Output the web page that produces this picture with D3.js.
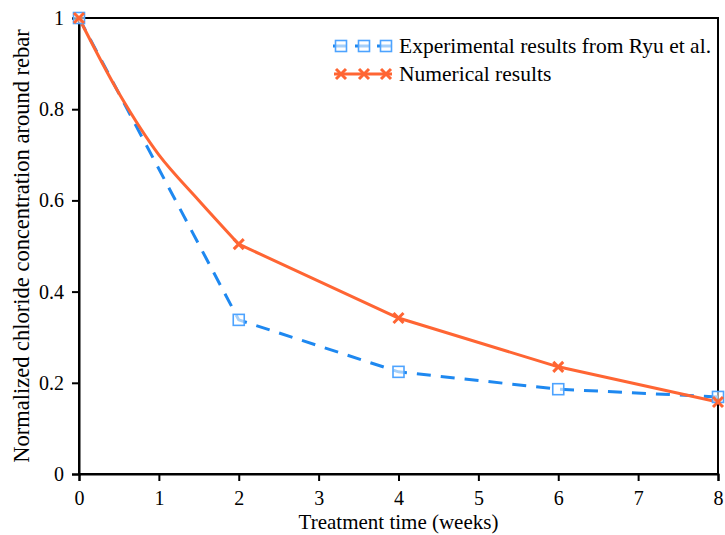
<!DOCTYPE html>
<html><head><meta charset="utf-8">
<script src="https://cdn.jsdelivr.net/npm/d3@7"></script>
<style>body{margin:0;background:#fff}</style>
</head><body>
<svg id="c" width="725" height="535"></svg>
<script>
const xTicks = [0,1,2,3,4,5,6,7,8];
const yTicks = [0,0.2,0.4,0.6,0.8,1];
const expWeeks = [0,2,4,6,8];
const expValues = [1.0,0.338,0.224,0.186,0.169];
const numWeeks = [0,0.5,1,1.5,2,4,6,8];
const numValues = [1.0,0.835,0.70,0.60,0.504,0.342,0.235,0.158];
const numMarkerWeeks = [0,2,4,6,8];
const seriesNames = ["Experimental results from Ryu et al.","Numerical results"];
const xTitle = "Treatment time (weeks)";
const yTitle = "Normalized chloride concentration around rebar";

const blue = "#1E88F0", blueMk = "#4DA3FF", orange = "#FF6533";
const svg = d3.select("#c");
const L=79,R=718,T=18,B=474;
const x = d3.scaleLinear().domain([0,8]).range([L,R]);
const y = d3.scaleLinear().domain([0,1]).range([B,T]);
const font = "'Liberation Serif','Times New Roman',serif";

svg.append("rect").attr("x",L).attr("y",T).attr("width",R-L).attr("height",B-T)
  .attr("fill","none").attr("stroke","#000").attr("stroke-width",2);

const xa = svg.append("g").attr("transform",`translate(0,${B})`)
  .call(d3.axisBottom(x).tickValues(xTicks).tickFormat(d3.format("d")).tickSize(7).tickPadding(10));
const ya = svg.append("g").attr("transform",`translate(${L},0)`)
  .call(d3.axisLeft(y).tickValues(yTicks).tickFormat(d=>String(+d.toFixed(1))).tickSize(7).tickPadding(8));
[xa,ya].forEach(a=>{
  a.attr("font-family",font).attr("font-size",20);
  a.select(".domain").attr("stroke","#000").attr("stroke-width",2);
  a.selectAll(".tick line").attr("stroke","#000").attr("stroke-width",2);
  a.selectAll("text").attr("font-family",font).attr("font-size",20).attr("fill","#000");
});

svg.append("text").attr("x",(L+R)/2).attr("y",529).attr("text-anchor","middle")
  .attr("font-family",font).attr("font-size",21).text(xTitle);
svg.append("text").attr("transform",`translate(29,${(T+B)/2}) rotate(-90)`).attr("text-anchor","middle")
  .attr("font-family",font).attr("font-size",22.5).text(yTitle);

const expData = expWeeks.map((w,i)=>[w,expValues[i]]);
const numData = numWeeks.map((w,i)=>[w,numValues[i]]);
const numMk = numMarkerWeeks.map(w=>[w,numValues[numWeeks.indexOf(w)]]);

svg.append("path").datum(expData).attr("fill","none").attr("stroke",blue).attr("stroke-width",3)
  .attr("stroke-dasharray","14,10")
  .attr("d",d3.line().x(d=>x(d[0])).y(d=>y(d[1])));
const early = numData.filter(d=>d[0]<=2), late = numData.filter(d=>d[0]>=2);
svg.append("path").datum(early).attr("fill","none").attr("stroke",orange).attr("stroke-width",3)
  .attr("d",d3.line().curve(d3.curveCatmullRom).x(d=>x(d[0])).y(d=>y(d[1])));
svg.append("path").datum(late).attr("fill","none").attr("stroke",orange).attr("stroke-width",3)
  .attr("stroke-linejoin","round")
  .attr("d",d3.line().x(d=>x(d[0])).y(d=>y(d[1])));

function square(g,cx,cy){
  g.append("rect").attr("x",cx-5.5).attr("y",cy-5.5).attr("width",11).attr("height",11)
   .attr("fill","#fff").attr("fill-opacity",0.6).attr("stroke",blueMk).attr("stroke-width",1.6);
}
function cross(g,cx,cy){
  const s=5;
  g.append("path").attr("d",`M${cx-s},${cy-s}L${cx+s},${cy+s}M${cx-s},${cy+s}L${cx+s},${cy-s}`)
   .attr("stroke",orange).attr("stroke-width",3).attr("fill","none");
}
const mk = svg.append("g");
expData.forEach(d=>square(mk,x(d[0]),y(d[1])));
numMk.forEach(d=>cross(mk,x(d[0]),y(d[1])));

const lg = svg.append("g");
lg.append("line").attr("x1",333).attr("x2",392).attr("y1",46).attr("y2",46)
  .attr("stroke",blue).attr("stroke-width",3).attr("stroke-dasharray","14,8");
[341,364,386].forEach(cx=>square(lg,cx,46));
lg.append("text").attr("x",399).attr("y",53).attr("font-family",font).attr("font-size",21.5).text(seriesNames[0]);
lg.append("line").attr("x1",334).attr("x2",392).attr("y1",74).attr("y2",74)
  .attr("stroke",orange).attr("stroke-width",3);
[341,364,386].forEach(cx=>cross(lg,cx,74));
lg.append("text").attr("x",399).attr("y",81).attr("font-family",font).attr("font-size",21.5).text(seriesNames[1]);
</script>
</body></html>
